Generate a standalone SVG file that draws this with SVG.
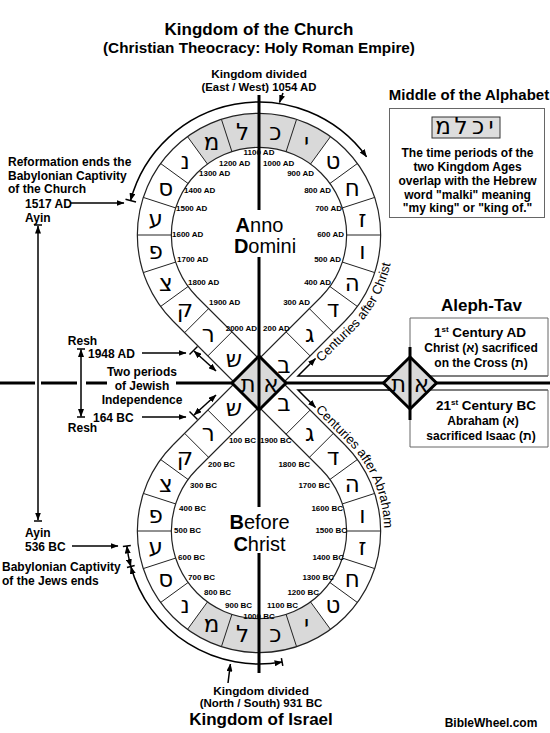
<svg xmlns="http://www.w3.org/2000/svg" width="550" height="733" viewBox="0 0 550 733">
<style>
.t{font-family:"Liberation Sans",Arial,"DejaVu Sans",sans-serif;font-weight:bold;fill:#000}
.yr{font-size:8px}
.lb{font-size:12px}
.hb{font-family:"DejaVu Sans",sans-serif;font-size:23px;text-anchor:middle;fill:#000}
.cell{stroke:#222;stroke-width:1;fill:none}
.ring{stroke:#222;stroke-width:1.2;fill:none}
.grey{fill:#d9d9d9;stroke:none}
.thick{stroke:#000;stroke-width:3;fill:none}
.arr{stroke:#000;stroke-width:1.5;fill:none}
.tick{stroke:#000;stroke-width:1.5}
.box{fill:#fff;stroke:#666;stroke-width:1}
.cen{font-family:"Liberation Sans",Arial,sans-serif;font-size:20px;fill:#000;text-anchor:middle}
.cent{font-family:"Liberation Sans",Arial,sans-serif;font-size:13px;fill:#000}
</style>
<defs>
<marker id="ah" viewBox="0 0 8 6" refX="7.5" refY="3" markerWidth="8" markerHeight="6" markerUnits="userSpaceOnUse" orient="auto-start-reverse"><path d="M0,0 L8,3 L0,6 Z" fill="#000"/></marker>
<path id="pc" d="M321.22,362.49 L354.21,330.21 A134.65,134.65 0 0 0 375.61,167.67"/>
<path id="pa" d="M315.22,410.22 L347.50,442.50 A125.15,125.15 0 0 1 367.38,593.58"/>
</defs>

<g id="titles" class="t">
<text x="259" y="35" font-size="17" text-anchor="middle">Kingdom of the Church</text>
<text x="259" y="52.5" font-size="15.3" text-anchor="middle">(Christian Theocracy: Holy Roman Empire)</text>
<text x="259" y="78" font-size="11.8" text-anchor="middle">Kingdom divided</text>
<text x="259" y="90.5" font-size="11.3" text-anchor="middle">(East / West) 1054 AD</text>
<text x="261" y="695" font-size="11.8" text-anchor="middle">Kingdom divided</text>
<text x="261" y="707" font-size="11.5" text-anchor="middle">(North / South) 931 BC</text>
<text x="261" y="725" font-size="17" text-anchor="middle">Kingdom of Israel</text>
<text x="491" y="727" font-size="12" text-anchor="middle">BibleWheel.com</text>
</g>

<g id="wheel">
<path class="grey" d="M330.51,136.58 A121.65,121.65 0 0 0 187.49,136.58 L207.48,164.09 A87.65,87.65 0 0 1 310.52,164.09 Z"/>
<path class="grey" d="M330.51,629.42 A121.65,121.65 0 0 1 187.49,629.42 L207.48,601.91 A87.65,87.65 0 0 0 310.52,601.91 Z"/>
<path class="ring" d="M345.02,321.02 A121.65,121.65 0 1 0 172.98,321.02"/>
<path class="ring" d="M320.98,296.98 A87.65,87.65 0 1 0 197.02,296.98"/>
<path class="ring" d="M345.02,444.98 A121.65,121.65 0 1 1 172.98,444.98"/>
<path class="ring" d="M320.98,469.02 A87.65,87.65 0 1 1 197.02,469.02"/>
<path class="ring" d="M197.02,469.02 L345.02,321.02 M172.98,444.98 L320.98,296.98 M197.02,296.98 L345.02,444.98 M172.98,321.02 L320.98,469.02"/>
<path class="cell" d="M357.42,306.51 L329.91,286.52 M374.70,272.59 L342.36,262.08 M380.65,235 L346.65,235 M374.70,197.41 L342.36,207.92 M357.42,163.49 L329.91,183.48 M330.51,136.58 L310.52,164.09 M296.59,119.30 L286.08,151.64 M221.41,119.30 L231.92,151.64 M187.49,136.58 L207.48,164.09 M160.58,163.49 L188.09,183.48 M143.30,197.41 L175.64,207.92 M137.35,235 L171.35,235 M143.30,272.59 L175.64,262.08 M160.58,306.51 L188.09,286.52"/>
<path class="cell" d="M357.42,459.49 L329.91,479.48 M374.70,493.41 L342.36,503.92 M380.65,531 L346.65,531 M374.70,568.59 L342.36,558.08 M357.42,602.51 L329.91,582.52 M330.51,629.42 L310.52,601.91 M296.59,646.70 L286.08,614.36 M221.41,646.70 L231.92,614.36 M187.49,629.42 L207.48,601.91 M160.58,602.51 L188.09,582.52 M143.30,568.59 L175.64,558.08 M137.35,531 L171.35,531 M143.30,493.41 L175.64,503.92 M160.58,459.49 L188.09,479.48"/>
<path class="cell" d="M309.35,308.61 L333.39,332.65 M286.08,331.88 L310.12,355.92 M184.61,433.35 L208.65,457.39 M207.88,410.08 L231.92,434.12 M184.61,332.65 L208.65,308.61 M207.88,355.92 L231.92,331.88 M309.35,457.39 L333.39,433.35 M286.08,434.12 L310.12,410.08"/>
</g>

<g id="axes">
<path class="thick" d="M259,95 V210 M259,257 V507 M259,553 V673"/>
<path class="thick" d="M0,383 H35 M41,383 H77 M86,383 H107 M176,383 H233"/>
<path class="thick" d="M286,383 H550"/>
<path class="arr" d="M391,376 H298 L315.5,358.5" marker-end="url(#ah)"/>
<path class="arr" d="M391,390 H298 L315.5,407.5" marker-end="url(#ah)"/>
<path d="M388,376 H548 M388,390 H548" stroke="#000" stroke-width="1.2"/>
</g>

<g id="letters" class="hb">
<text x="284" y="373">ב</text><text x="309.7" y="342">ג</text><text x="333" y="317">ד</text><text x="352.2" y="290.5">ה</text><text x="362.4" y="259.4">ו</text><text x="362.4" y="226.6">ז</text><text x="352.2" y="195.5">ח</text><text x="333" y="169">ט</text><text x="306.5" y="149.8">י</text><text x="275.4" y="139.6">כ</text><text x="242.6" y="139.6">ל</text><text x="211.5" y="149.8">מ</text><text x="185" y="169">נ</text><text x="165.8" y="195.5">ס</text><text x="155.6" y="226.6">ע</text><text x="155.6" y="259.4">פ</text><text x="165.8" y="290.5">צ</text><text x="185" y="317">ק</text><text x="208.3" y="342">ר</text><text x="234" y="367">ש</text>
<text x="284" y="411">ב</text><text x="309.7" y="441">ג</text><text x="333" y="465">ד</text><text x="352.2" y="491.5">ה</text><text x="362.4" y="522.6">ו</text><text x="362.4" y="555.4">ז</text><text x="352.2" y="586.5">ח</text><text x="333" y="613">ט</text><text x="306.5" y="632.2">י</text><text x="275.4" y="642.4">כ</text><text x="242.6" y="642.4">ל</text><text x="211.5" y="632.2">מ</text><text x="185" y="613">נ</text><text x="165.8" y="586.5">ס</text><text x="155.6" y="555.4">ע</text><text x="155.6" y="522.6">פ</text><text x="165.8" y="491.5">צ</text><text x="185" y="465">ק</text><text x="208.3" y="441">ר</text><text x="234" y="416">ש</text>
</g>

<g id="diamond-center">
<path d="M259,356 L286,383 L259,410 L232,383 Z" fill="#d9d9d9" stroke="#000" stroke-width="3"/>
<path d="M259,356 V410" stroke="#000" stroke-width="3"/>
<text class="hb" x="248" y="392" font-size="24">ת</text>
<text class="hb" x="271" y="392" font-size="24">א</text>
</g>

<g id="years" class="t yr">
<text x="259" y="155" text-anchor="middle">1100 AD</text>
<text x="219" y="165.5">1200 AD</text>
<text x="263" y="165.5">1000 AD</text>
<text x="199" y="176">1300 AD</text>
<text x="314" y="176" text-anchor="end">900 AD</text>
<text x="184" y="192.5">1400 AD</text>
<text x="331" y="192.5" text-anchor="end">800 AD</text>
<text x="176" y="210.5">1500 AD</text>
<text x="342" y="210.5" text-anchor="end">700 AD</text>
<text x="172" y="236.5">1600 AD</text>
<text x="344" y="236.5" text-anchor="end">600 AD</text>
<text x="177" y="262">1700 AD</text>
<text x="341" y="262" text-anchor="end">500 AD</text>
<text x="188" y="285">1800 AD</text>
<text x="331" y="285" text-anchor="end">400 AD</text>
<text x="209" y="305">1900 AD</text>
<text x="310" y="305" text-anchor="end">300 AD</text>
<text x="257" y="331" text-anchor="end">2000 AD</text>
<text x="263" y="331">200 AD</text>
<text x="256" y="442.7" text-anchor="end">100 BC</text>
<text x="260" y="442.7">1900 BC</text>
<text x="208" y="466.7">200 BC</text>
<text x="310" y="466.7" text-anchor="end">1800 BC</text>
<text x="190" y="487.7">300 BC</text>
<text x="330" y="487.7" text-anchor="end">1700 BC</text>
<text x="179" y="511">400 BC</text>
<text x="343" y="511" text-anchor="end">1600 BC</text>
<text x="174" y="532.7">500 BC</text>
<text x="347" y="532.7" text-anchor="end">1500 BC</text>
<text x="178" y="560">600 BC</text>
<text x="344" y="560" text-anchor="end">1400 BC</text>
<text x="188" y="579.5">700 BC</text>
<text x="334" y="579.5" text-anchor="end">1300 BC</text>
<text x="204" y="595">800 BC</text>
<text x="319" y="595" text-anchor="end">1200 BC</text>
<text x="225" y="607.7">900 BC</text>
<text x="267" y="607.7">1100 BC</text>
<text x="259" y="618.5" text-anchor="middle">1000 BC</text>
</g>

<g id="center-labels">
<text class="cen" x="259.5" y="232"><tspan font-weight="bold">A</tspan>nno</text>
<text class="cen" x="265" y="253"><tspan font-weight="bold">D</tspan>omini</text>
<text class="cen" x="259.5" y="529"><tspan font-weight="bold">B</tspan>efore</text>
<text class="cen" x="259.5" y="551"><tspan font-weight="bold">C</tspan>hrist</text>
<text class="cent"><textPath href="#pc">Centuries after Christ</textPath></text>
<text class="cent"><textPath href="#pa">Centuries after Abraham</textPath></text>
</g>

<g id="period-arrows">
<path class="arr" d="M130.53,200.58 A133,133 0 0 1 366.6,156.82" marker-start="url(#ah)" marker-end="url(#ah)"/>
<path class="tick" d="M136,202 L125.5,199.2"/>
<path class="arr" d="M283,93 L279.5,102.5" marker-end="url(#ah)"/>
<path class="arr" d="M126.85,546 A133,133 0 0 0 130.83,566.5" marker-start="url(#ah)" marker-end="url(#ah)"/>
<path class="arr" d="M130.83,566.5 A133,133 0 0 0 282.1,662" marker-start="url(#ah)" marker-end="url(#ah)"/>
<path class="tick" d="M130.82,545.56 L122.88,546.46 M134.68,565.43 L126.97,567.57 M281.4,658.04 L282.79,665.92"/>
<path class="arr" d="M228,683 L230.4,664" marker-end="url(#ah)"/>
<path class="arr" d="M38,226 V520" marker-start="url(#ah)" marker-end="url(#ah)"/>
<path class="tick" d="M34,225 H42 M34,521 H42"/>
<path class="arr" d="M81,349.5 V416.5" marker-start="url(#ah)" marker-end="url(#ah)"/>
<path class="tick" d="M77,349 H85 M77,417 H85"/>
<path class="arr" d="M70,203 H124" marker-end="url(#ah)"/>
<path class="arr" d="M142,353 H186" marker-end="url(#ah)"/>
<path class="arr" d="M142,417 H186" marker-end="url(#ah)"/>
<path class="arr" d="M72,546 H118" marker-end="url(#ah)"/>
<path class="arr" d="M194,351 L216,371" marker-start="url(#ah)" marker-end="url(#ah)"/>
<path class="tick" d="M189.5,354.5 L197.5,346.5"/>
<path class="arr" d="M194,415 L216,395" marker-start="url(#ah)" marker-end="url(#ah)"/>
<path class="tick" d="M189.5,411.5 L197.5,419.5"/>
</g>

<g id="left-labels" class="t lb">
<text x="8" y="166">Reformation ends the</text>
<text x="8" y="179.5">Babylonian Captivity</text>
<text x="8" y="193">of  the Church</text>
<text x="25" y="208">1517 AD</text>
<text x="25" y="221.5">Ayin</text>
<text x="82.5" y="345" text-anchor="middle">Resh</text>
<text x="88" y="357.5">1948 AD</text>
<text x="142" y="376" text-anchor="middle">Two periods</text>
<text x="142" y="390" text-anchor="middle">of Jewish</text>
<text x="142" y="404" text-anchor="middle">Independence</text>
<text x="93" y="421.5">164 BC</text>
<text x="82.5" y="432" text-anchor="middle">Resh</text>
<text x="25" y="537">Ayin</text>
<text x="25" y="551">536 BC</text>
<text x="2" y="570.5">Babylonian Captivity</text>
<text x="2" y="584.5">of  the Jews ends</text>
</g>

<g id="middle-box">
<text class="t" x="469" y="100" font-size="15" text-anchor="middle">Middle of the Alphabet</text>
<rect class="box" x="389.5" y="108.5" width="155" height="109"/>
<rect x="432" y="117" width="68" height="21" fill="#ddd" stroke="#333" stroke-width="1"/>
<g class="hb" font-size="18" fill="#333"><text x="443" y="134">מ</text><text x="461" y="134">ל</text><text x="478" y="134">כ</text><text x="491" y="134">י</text></g>
<g class="t lb" text-anchor="middle">
<text x="467.5" y="157">The time periods of the</text>
<text x="467.5" y="171">two Kingdom Ages</text>
<text x="467.5" y="185">overlap with the Hebrew</text>
<text x="467.5" y="198.5">word "malki" meaning</text>
<text x="467.5" y="212">"my king" or "king of."</text>
</g>
</g>

<g id="aleph-tav-box">
<text class="t" x="481.5" y="310.5" font-size="17" text-anchor="middle">Aleph-Tav</text>
<path d="M410,376 V318 H548 V376 M410,390 V447 H548 V390" fill="none" stroke="#666" stroke-width="1"/>
<path class="thick" d="M410,347 V420"/>
<path d="M410,357 L436.5,383 L410,409 L383.5,383 Z" fill="#d9d9d9" stroke="#000" stroke-width="3"/>
<path d="M410,357 V409" stroke="#000" stroke-width="3"/>
<text class="hb" x="398.5" y="392" font-size="24">ת</text>
<text class="hb" x="421.5" y="392" font-size="24">א</text>
<g class="t" text-anchor="middle">
<text x="480" y="336.5" font-size="13.5">1<tspan font-size="8" dy="-5">st</tspan><tspan dy="5"> Century AD</tspan></text>
<text x="481" y="351.5" font-size="12">Christ (א) sacrificed</text>
<text x="481" y="367" font-size="12">on the Cross (ת)</text>
<text x="486" y="410" font-size="13.5">21<tspan font-size="8" dy="-5">st</tspan><tspan dy="5"> Century BC</tspan></text>
<text x="483" y="425" font-size="12">Abraham (א)</text>
<text x="481" y="440" font-size="12">sacrificed Isaac (ת)</text>
</g>
</g>
</svg>
